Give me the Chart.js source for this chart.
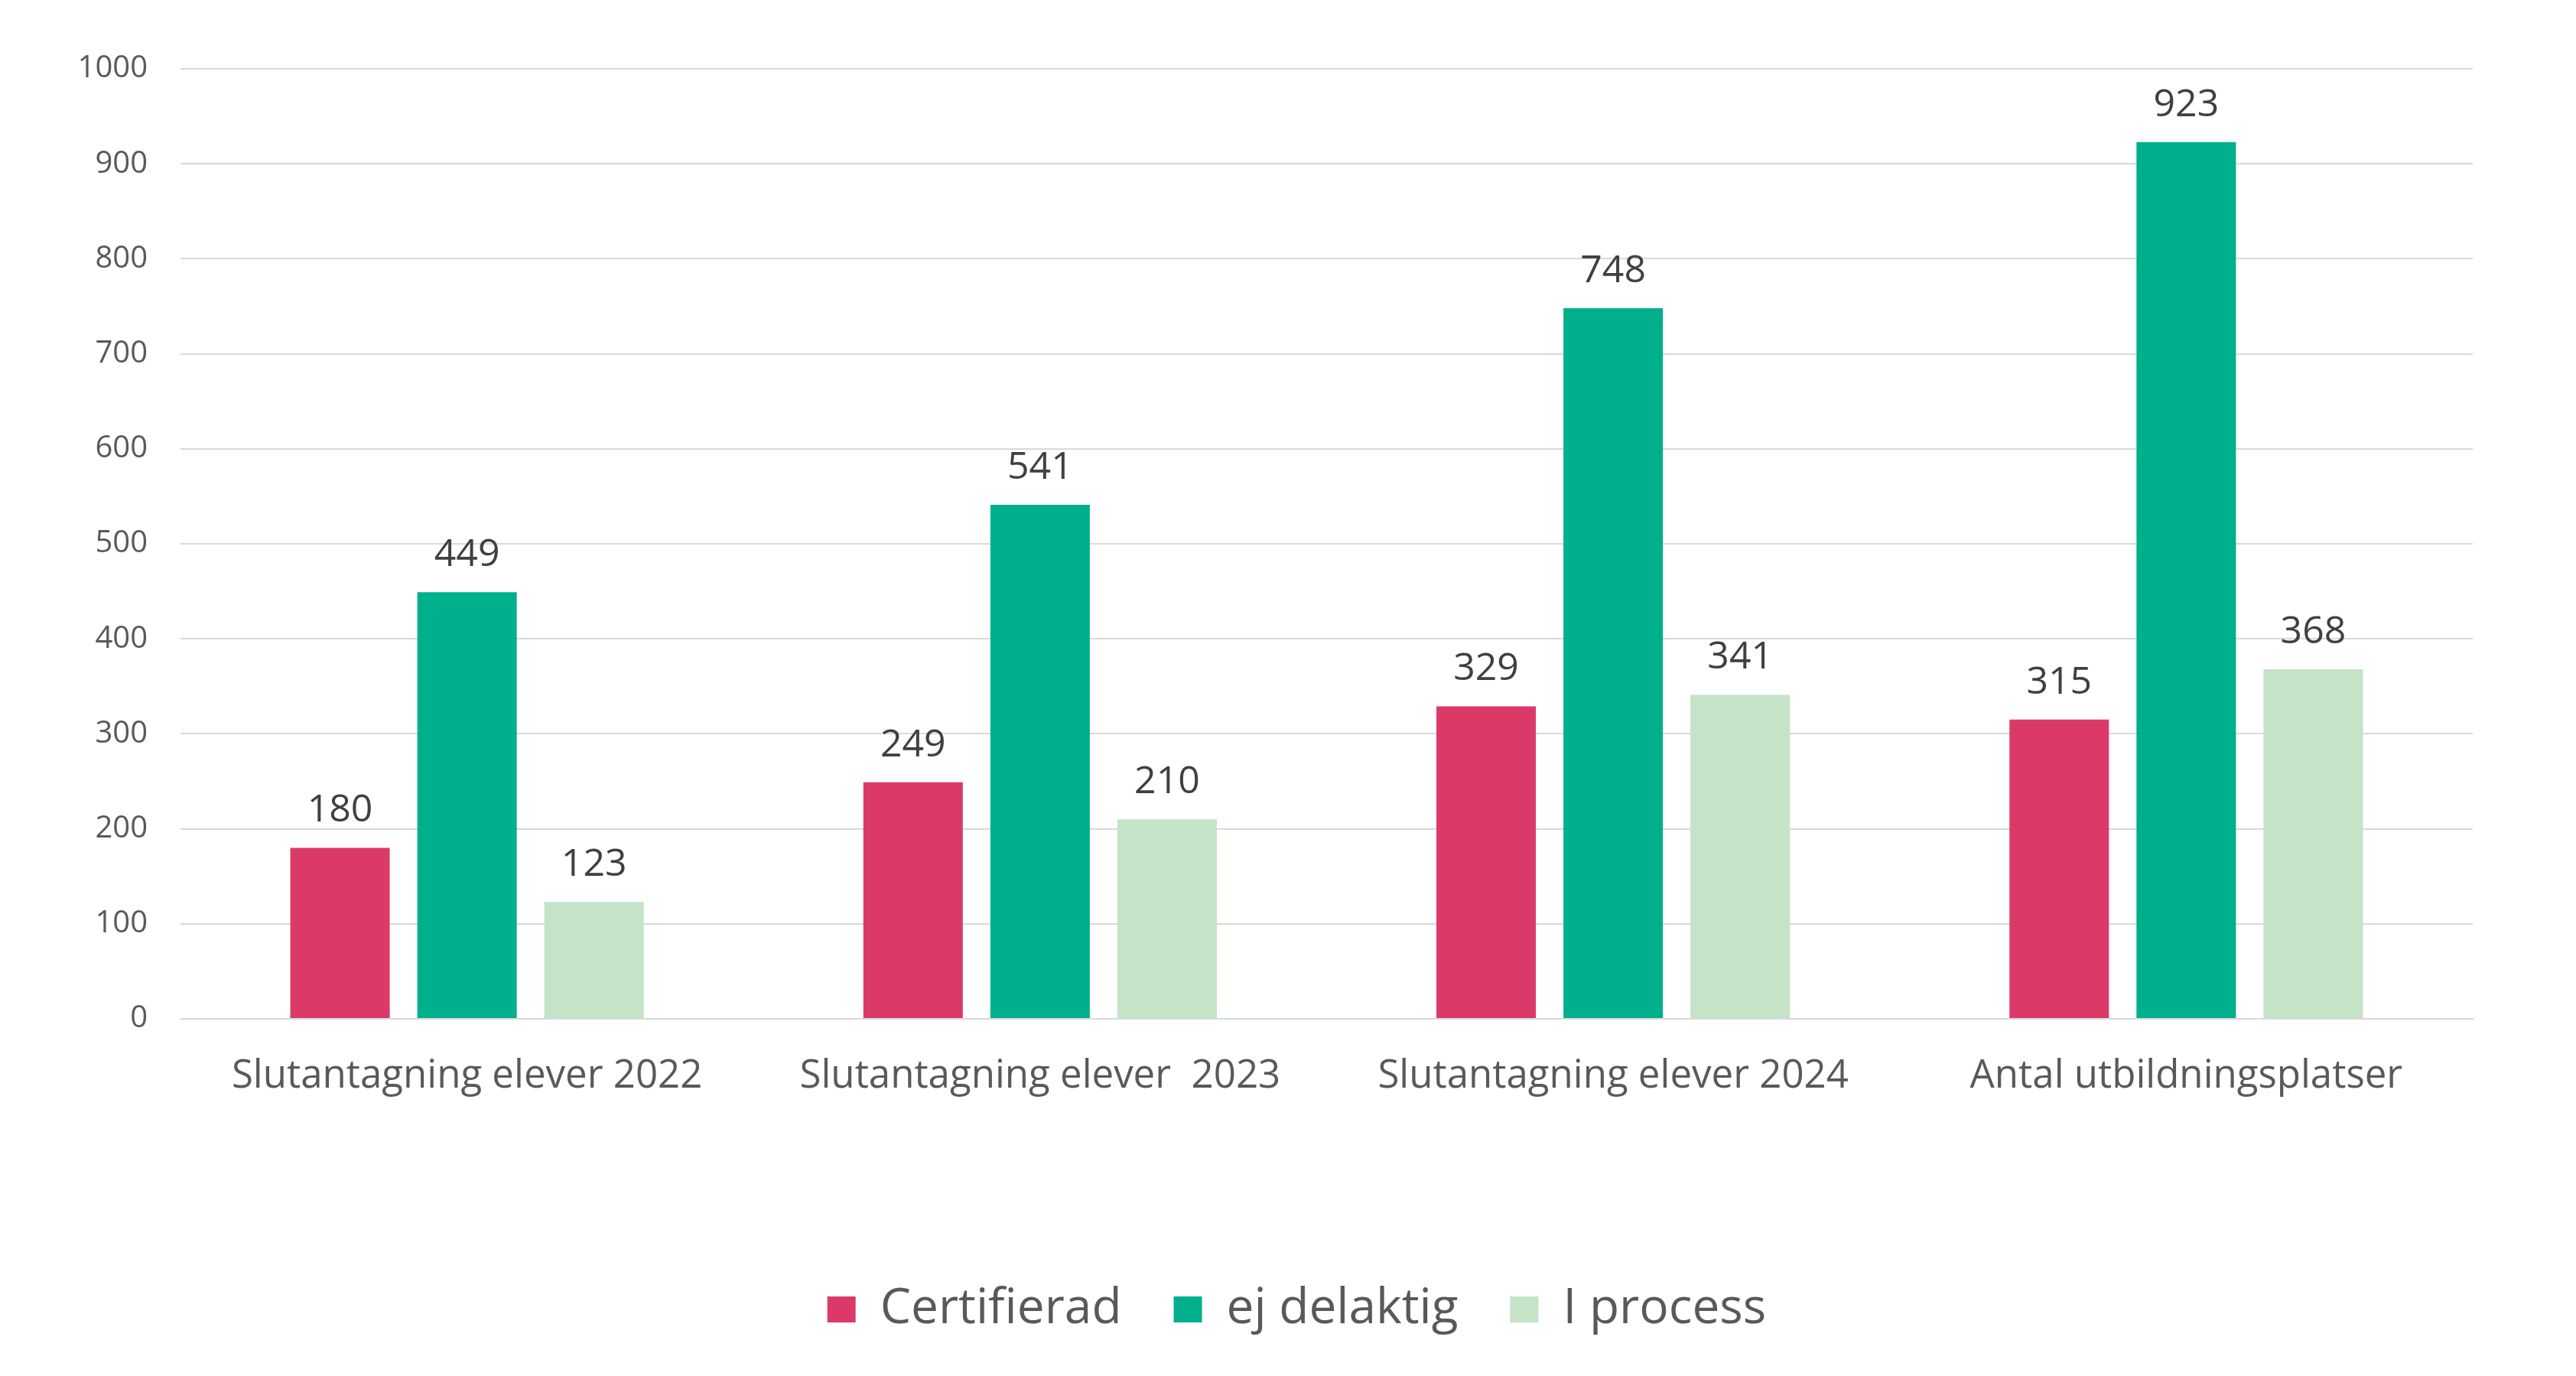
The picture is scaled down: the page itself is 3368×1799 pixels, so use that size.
<!DOCTYPE html>
<html>
<head>
<meta charset="utf-8">
<script src="https://cdn.jsdelivr.net/npm/chart.js@4.4.1/dist/chart.umd.min.js"></script>
<style>
html,body{margin:0;padding:0;background:#fff;}
#wrap{width:3368px;height:1799px;}
</style>
</head>
<body>
<div id="wrap"><canvas id="c" width="3368" height="1799"></canvas></div>
<script>
const categories = ["Slutantagning elever 2022", "Slutantagning elever  2023", "Slutantagning elever 2024", "Antal utbildningsplatser"];
const certifierad = [180, 249, 329, 315];
const ejDelaktig = [449, 541, 748, 923];
const iProcess = [123, 210, 341, 368];
const yTicks = [0, 100, 200, 300, 400, 500, 600, 700, 800, 900, 1000];

const FONT = "'Open Sans', 'Noto Sans', sans-serif";

const valueLabels = {
  id: 'valueLabels',
  afterDatasetsDraw(chart) {
    const ctx = chart.ctx;
    ctx.save();
    ctx.font = "50px " + FONT;
    ctx.fillStyle = '#404040';
    ctx.textAlign = 'center';
    ctx.textBaseline = 'alphabetic';
    chart.data.datasets.forEach((ds, i) => {
      const meta = chart.getDatasetMeta(i);
      meta.data.forEach((bar, j) => {
        ctx.fillText(String(ds.data[j]), bar.x, bar.y - 34);
      });
    });
    ctx.restore();
  }
};

const legendShift = {
  id: 'legendShift',
  afterLayout(chart) {
    if (chart.legend) { chart.legend.left += 158; }
  }
};

new Chart(document.getElementById('c'), {
  type: 'bar',
  data: {
    labels: categories,
    datasets: [
      { label: 'Certifierad', data: certifierad, backgroundColor: '#DB3A68' },
      { label: 'ej delaktig', data: ejDelaktig, backgroundColor: '#00AF8C' },
      { label: 'I process', data: iProcess, backgroundColor: '#C4E3C7' }
    ]
  },
  options: {
    responsive: false,
    animation: false,
    maintainAspectRatio: false,
    layout: { padding: { top: 90, right: 135, bottom: 45, left: 0 } },
    datasets: { bar: { categoryPercentage: 0.665, barPercentage: 0.783 } },
    plugins: {
      tooltip: { enabled: false },
      legend: {
        position: 'bottom',
        labels: {
          font: { family: FONT, size: 64 },
          color: '#595959',
          boxWidth: 37,
          boxHeight: 34,
          padding: 68
        }
      }
    },
    scales: {
      x: {
        grid: { display: false, drawTicks: false },
        border: { display: true, color: '#D9D9D9', width: 2 },
        ticks: { font: { family: FONT, size: 51 }, color: '#595959', padding: 45, maxRotation: 0, autoSkip: false },
        afterFit: (s) => { s.height = 280; }
      },
      y: {
        min: 0, max: 1000,
        afterBuildTicks: (s) => { s.ticks = yTicks.map(v => ({ value: v })); },
        grid: { color: '#D9D9D9', lineWidth: 2, drawTicks: false },
        border: { display: false },
        ticks: { font: { family: FONT, size: 40 }, color: '#595959', padding: 43, callback: (v) => String(v) },
        afterFit: (s) => { s.width = 236; }
      }
    }
  },
  plugins: [valueLabels, legendShift]
});
</script>
</body>
</html>
